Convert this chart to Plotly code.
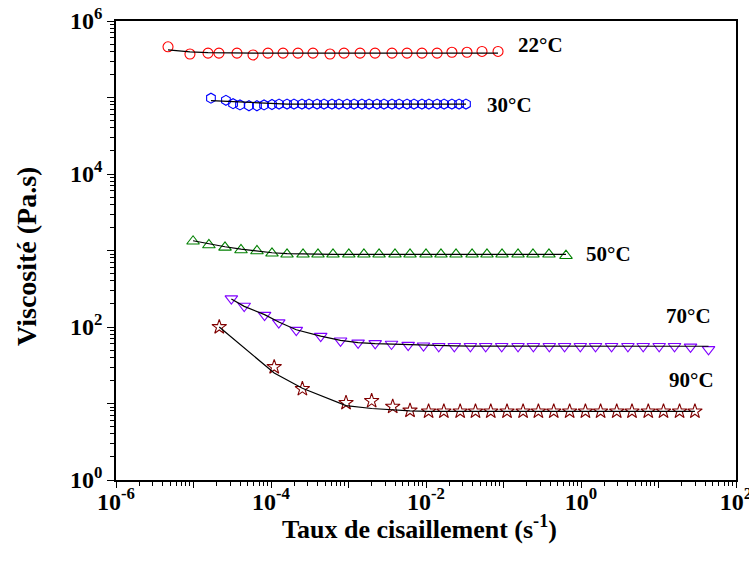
import plotly.graph_objects as go

# ---- data ----
x22 = [4.69e-6, 9.0e-6, 1.54e-5, 2.13e-5, 3.64e-5, 5.86e-5, 9.14e-5, 1.43e-4, 2.23e-4, 3.48e-4,
       5.77e-4, 8.75e-4, 1.41e-3, 2.2e-3, 3.64e-3, 5.69e-3, 8.87e-3, 1.39e-2, 2.16e-2, 3.38e-2,
       5.28e-2, 8.5e-2]
y22 = [4.6e5, 3.7e5, 3.8e5, 3.8e5, 3.8e5, 3.6e5, 3.8e5, 3.8e5, 3.8e5, 3.8e5,
       3.7e5, 3.8e5, 3.8e5, 3.8e5, 3.8e5, 3.8e5, 3.8e5, 3.8e5, 3.9e5, 3.9e5,
       4.0e5, 4.0e5]
fit22 = [4.2e5, 3.95e5, 3.85e5, 3.82e5, 3.8e5, 3.8e5, 3.8e5, 3.8e5, 3.8e5, 3.8e5,
         3.8e5, 3.8e5, 3.8e5, 3.8e5, 3.8e5, 3.8e5, 3.8e5, 3.8e5, 3.8e5, 3.8e5,
         3.8e5, 3.8e5]

x30 = [1.68e-5, 2.62e-5, 3.24e-5, 3.98e-5, 5.2e-5, 6.59e-5, 8.13e-5, 1.03e-4, 1.27e-4, 1.61e-4,
       1.98e-4, 2.51e-4, 3.09e-4, 3.93e-4, 4.83e-4, 6.12e-4, 7.53e-4, 9.57e-4, 1.18e-3, 1.49e-3,
       1.84e-3, 2.33e-3, 2.87e-3, 3.64e-3, 4.49e-3, 5.69e-3, 7.0e-3, 8.87e-3, 1.09e-2, 1.39e-2,
       1.71e-2, 2.16e-2, 2.67e-2, 3.28e-2]
y30 = [9.8e4, 9.2e4, 8.3e4, 8.0e4, 7.8e4, 7.8e4, 8.0e4, 8.1e4, 8.2e4, 8.2e4,
       8.2e4, 8.2e4, 8.2e4, 8.2e4, 8.2e4, 8.2e4, 8.2e4, 8.2e4, 8.2e4, 8.2e4,
       8.2e4, 8.2e4, 8.2e4, 8.2e4, 8.2e4, 8.2e4, 8.2e4, 8.2e4, 8.2e4, 8.2e4,
       8.2e4, 8.2e4, 8.2e4, 8.2e4]
fit30 = [9.1e4, 8.9e4, 8.7e4, 8.6e4, 8.5e4, 8.4e4, 8.35e4, 8.3e4, 8.25e4, 8.2e4,
         8.2e4, 8.2e4, 8.2e4, 8.2e4, 8.2e4, 8.2e4, 8.2e4, 8.2e4, 8.2e4, 8.2e4,
         8.2e4, 8.2e4, 8.2e4, 8.2e4, 8.2e4, 8.2e4, 8.2e4, 8.2e4, 8.2e4, 8.2e4,
         8.2e4, 8.2e4, 8.2e4, 8.2e4]

x50 = [9.87e-6, 1.58e-5, 2.55e-5, 4.1e-5, 6.59e-5, 1.03e-4, 1.61e-4, 2.59e-4, 4.04e-4, 6.31e-4,
       1.01e-3, 1.58e-3, 2.48e-3, 3.98e-3, 6.22e-3, 1.0e-2, 1.56e-2, 2.44e-2, 3.93e-2, 6.12e-2,
       9.57e-2, 0.154, 0.24, 0.386, 0.64]
y50 = [1320, 1180, 1100, 1016, 985, 919, 892, 892, 892, 892,
       892, 892, 892, 892, 892, 892, 892, 892, 892, 892,
       892, 892, 892, 892, 855]
fit50 = [1340, 1220, 1120, 1040, 975, 935, 910, 900, 895, 892,
         892, 892, 892, 892, 892, 892, 892, 892, 892, 892,
         892, 892, 892, 892, 892]

x70 = [3.08e-5, 4.51e-5, 8.26e-5, 1.26e-4, 2.12e-4, 4.38e-4, 7.89e-4, 1.33e-3, 2.21e-3, 3.59e-3,
       5.89e-3, 9.29e-3, 1.46e-2, 2.32e-2, 3.74e-2, 5.89e-2, 9.48e-2, 0.154, 0.243, 0.39,
       0.614, 0.98, 1.54, 2.48, 4.03, 6.35, 10.2, 16.1, 25.9, 44.2]
y70 = [235, 188, 143, 114, 91, 76, 66, 62, 61, 60,
       58, 57, 56, 56, 56, 56, 56, 56, 56, 56,
       56, 56, 56, 56, 56, 56, 56, 56, 55, 51]
fit70 = [232, 186, 145, 116, 92, 76, 67, 62.5, 60.5, 59.5,
         58.5, 57.5, 57, 56.5, 56.3, 56.2, 56.1, 56, 56, 56,
         56, 56, 56, 56, 56, 56, 56, 56, 56, 56]

x90 = [2.15e-5, 1.1e-4, 2.54e-4, 9.29e-4, 1.99e-3, 3.72e-3, 6.22e-3, 1.08e-2, 1.70e-2, 2.76e-2,
       4.35e-2, 6.85e-2, 0.111, 0.179, 0.282, 0.445, 0.714, 1.14, 1.79, 2.89,
       4.55, 7.38, 11.6, 18.7, 29.5]
y90 = [100, 30, 15.5, 10.2, 10.8, 9.1, 8.1, 7.9, 7.9, 7.9,
       7.9, 7.9, 7.9, 7.9, 7.9, 7.9, 7.9, 7.9, 7.9, 7.9,
       7.9, 7.9, 7.9, 7.9, 7.9]
fit90 = [100, 25, 15.8, 9.4, 8.6, 8.2, 8.0, 7.9, 7.9, 7.9,
         7.9, 7.9, 7.9, 7.9, 7.9, 7.9, 7.9, 7.9, 7.9, 7.9,
         7.9, 7.9, 7.9, 7.9, 7.9]

labels = ["22°C", "30°C", "50°C", "70°C", "90°C"]
x_tick_exp = [-6, -5, -4, -3, -2, -1, 0, 1, 2]
y_tick_exp = [0, 1, 2, 3, 4, 5, 6]

# ---- figure ----
FONT = "Liberation Serif"
series = [
    (x22, y22, fit22, "circle-open", "#FF0000", 10),
    (x30, y30, fit30, "hexagon-open", "#0000FF", 10),
    (x50, y50, fit50, "triangle-up-open", "#008000", 11),
    (x70, y70, fit70, "triangle-down-open", "#8000FF", 11),
    (x90, y90, fit90, "star-open", "#800000", 11),
]

fig = go.Figure()
for xs, ys, fs, sym, col, sz in series:
    fig.add_trace(go.Scatter(x=xs, y=ys, mode="markers",
                             marker=dict(symbol=sym, size=sz, color=col, line=dict(width=1.1, color=col)),
                             showlegend=False, hoverinfo="skip"))
for xs, ys, fs, sym, col, sz in series:
    fig.add_trace(go.Scatter(x=xs, y=fs, mode="lines", line=dict(color="black", width=1.2),
                             showlegend=False, hoverinfo="skip"))

def tick_text(exps, step):
    return [("<b>10<sup>%d</sup></b>" % e) if e % step == 0 else "" for e in exps]

minor_x = [m * 10.0 ** e for e in range(-6, 2) for m in range(2, 10)]
minor_y = [m * 10.0 ** e for e in range(0, 6) for m in range(2, 10)]

axis_common = dict(type="log", showgrid=False, zeroline=False, showline=True, linecolor="black",
                   linewidth=1.5, mirror=True, ticks="outside", tickwidth=1.3,
                   tickcolor="black", tickmode="array", automargin=False,
                   ticklabeloverflow="allow",
                   tickfont=dict(family=FONT, size=24, color="black"))

fig.update_xaxes(range=[-6, 2], tickvals=[10.0 ** e for e in x_tick_exp],
                 ticktext=tick_text(x_tick_exp, 2), ticklen=6, ticklabelstandoff=-7,
                 minor=dict(tickmode="array", tickvals=minor_x, ticks="outside", ticklen=4,
                            tickwidth=1, tickcolor="black", showgrid=False),
                 **axis_common)
fig.update_yaxes(range=[0, 6], tickvals=[10.0 ** e for e in y_tick_exp],
                 ticktext=tick_text(y_tick_exp, 2), ticklen=7,
                 minor=dict(tickmode="array", tickvals=minor_y, ticks="outside", ticklen=4,
                            tickwidth=1, tickcolor="black", showgrid=False),
                 **axis_common)

label_pos = [(0.685, 0.948), (0.634, 0.817), (0.795, 0.492), (0.923, 0.357), (0.929, 0.218)]
for txt, (ax, ay) in zip(labels, label_pos):
    fig.add_annotation(x=ax, y=ay, xref="paper", yref="paper", text="<b>%s</b>" % txt,
                       showarrow=False, xanchor="center", yanchor="middle",
                       font=dict(family=FONT, size=21, color="black"))

fig.add_annotation(x=0.49, y=-0.104, xref="paper", yref="paper",
                   text="<b>Taux de cisaillement (s<sup>-1</sup>)</b>", showarrow=False,
                   xanchor="center", yanchor="middle", font=dict(family=FONT, size=26, color="black"))
fig.add_annotation(x=-0.1435, y=0.486, xref="paper", yref="paper",
                   text="<b>Viscosité (Pa.s)</b>", showarrow=False, textangle=-90,
                   xanchor="center", yanchor="middle", font=dict(family=FONT, size=28, color="black"))

fig.update_layout(width=749, height=561, margin=dict(l=116, r=13, t=21, b=81),
                  paper_bgcolor="white", plot_bgcolor="white", template="none")

fig.write_html("out.html")
